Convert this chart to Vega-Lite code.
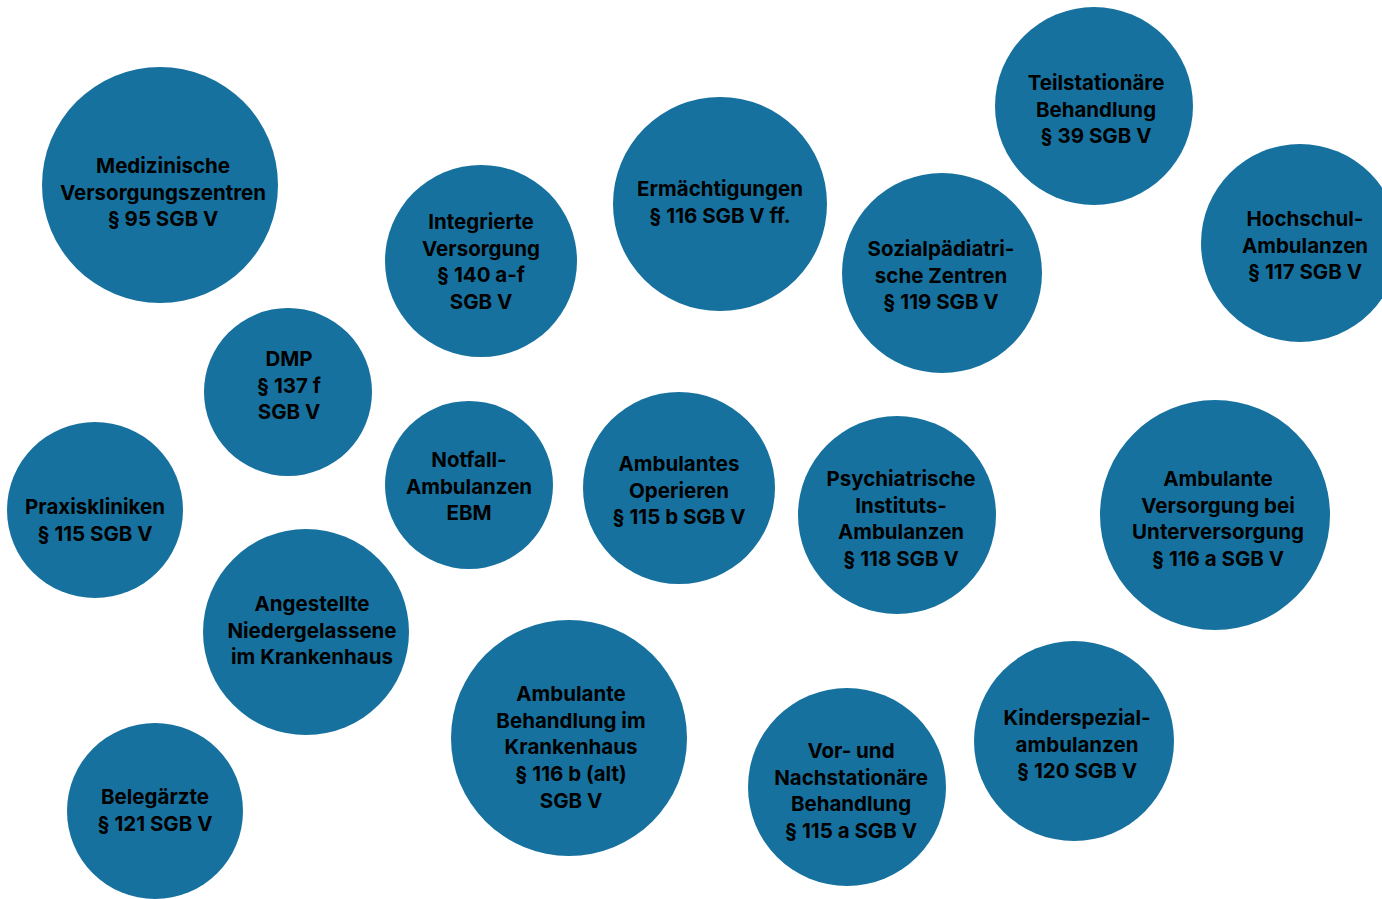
{
  "$schema": "https://vega.github.io/schema/vega-lite/v6.json",
  "width": 1382,
  "height": 899,
  "autosize": {"type": "none"},
  "padding": 0,
  "background": "#ffffff",
  "config": {"view": {"stroke": null}},
  "data": {
    "values": [
      {"label": "Medizinische\nVersorgungszentren\n§ 95 SGB V", "x": 160, "y": 185, "r": 118, "lx": 163, "ly": 167},
      {"label": "Integrierte\nVersorgung\n§ 140 a-f\nSGB V", "x": 481, "y": 261, "r": 96, "lx": 481, "ly": 223},
      {"label": "Ermächtigungen\n§ 116 SGB V ff.", "x": 720, "y": 204, "r": 107, "lx": 720, "ly": 190},
      {"label": "Teilstationäre\nBehandlung\n§ 39 SGB V", "x": 1094, "y": 106, "r": 99, "lx": 1096, "ly": 84},
      {"label": "Sozialpädiatri-\nsche Zentren\n§ 119 SGB V", "x": 942, "y": 273, "r": 100, "lx": 941, "ly": 250},
      {"label": "Hochschul-\nAmbulanzen\n§ 117 SGB V", "x": 1300, "y": 243, "r": 99, "lx": 1305, "ly": 220},
      {"label": "DMP\n§ 137 f\nSGB V", "x": 288, "y": 392, "r": 84, "lx": 289, "ly": 360},
      {"label": "Praxiskliniken\n§ 115 SGB V", "x": 95, "y": 510, "r": 88, "lx": 95, "ly": 508},
      {"label": "Notfall-\nAmbulanzen\nEBM", "x": 469, "y": 485, "r": 84, "lx": 469, "ly": 461},
      {"label": "Ambulantes\nOperieren\n§ 115 b SGB V", "x": 679, "y": 488, "r": 96, "lx": 679, "ly": 465},
      {"label": "Psychiatrische\nInstituts-\nAmbulanzen\n§ 118 SGB V", "x": 897, "y": 515, "r": 99, "lx": 901, "ly": 480},
      {"label": "Ambulante\nVersorgung bei\nUnterversorgung\n§ 116 a SGB V", "x": 1215, "y": 515, "r": 115, "lx": 1218, "ly": 480},
      {"label": "Angestellte\nNiedergelassene\nim Krankenhaus", "x": 306, "y": 632, "r": 103, "lx": 312, "ly": 605},
      {"label": "Ambulante\nBehandlung im\nKrankenhaus\n§ 116 b (alt)\nSGB V", "x": 569, "y": 738, "r": 118, "lx": 571, "ly": 695},
      {"label": "Vor- und\nNachstationäre\nBehandlung\n§ 115 a SGB V", "x": 847, "y": 787, "r": 99, "lx": 851, "ly": 752},
      {"label": "Kinderspezial-\nambulanzen\n§ 120 SGB V", "x": 1074, "y": 741, "r": 100, "lx": 1077, "ly": 719},
      {"label": "Belegärzte\n§ 121 SGB V", "x": 155, "y": 811, "r": 88, "lx": 155, "ly": 798}
    ]
  },
  "layer": [
    {
      "mark": {"type": "point", "shape": "circle", "filled": true, "opacity": 1, "color": "#16719f", "strokeWidth": 0},
      "encoding": {
        "x": {"field": "x", "type": "quantitative", "scale": {"domain": [0, 1382]}, "axis": null},
        "y": {"field": "y", "type": "quantitative", "scale": {"domain": [0, 899], "reverse": true}, "axis": null},
        "size": {"field": "r", "type": "quantitative", "scale": {"type": "pow", "exponent": 2, "domain": [0, 100], "range": [0, 40000]}, "legend": null}
      }
    },
    {
      "mark": {"type": "text", "lineBreak": "\n", "lineHeight": 26.7, "font": "Inter", "fontWeight": "bold", "fontSize": 20.5, "color": "#000000", "align": "center", "baseline": "middle"},
      "encoding": {
        "x": {"field": "lx", "type": "quantitative", "scale": {"domain": [0, 1382]}, "axis": null},
        "y": {"field": "ly", "type": "quantitative", "scale": {"domain": [0, 899], "reverse": true}, "axis": null},
        "text": {"field": "label"}
      }
    }
  ]
}
